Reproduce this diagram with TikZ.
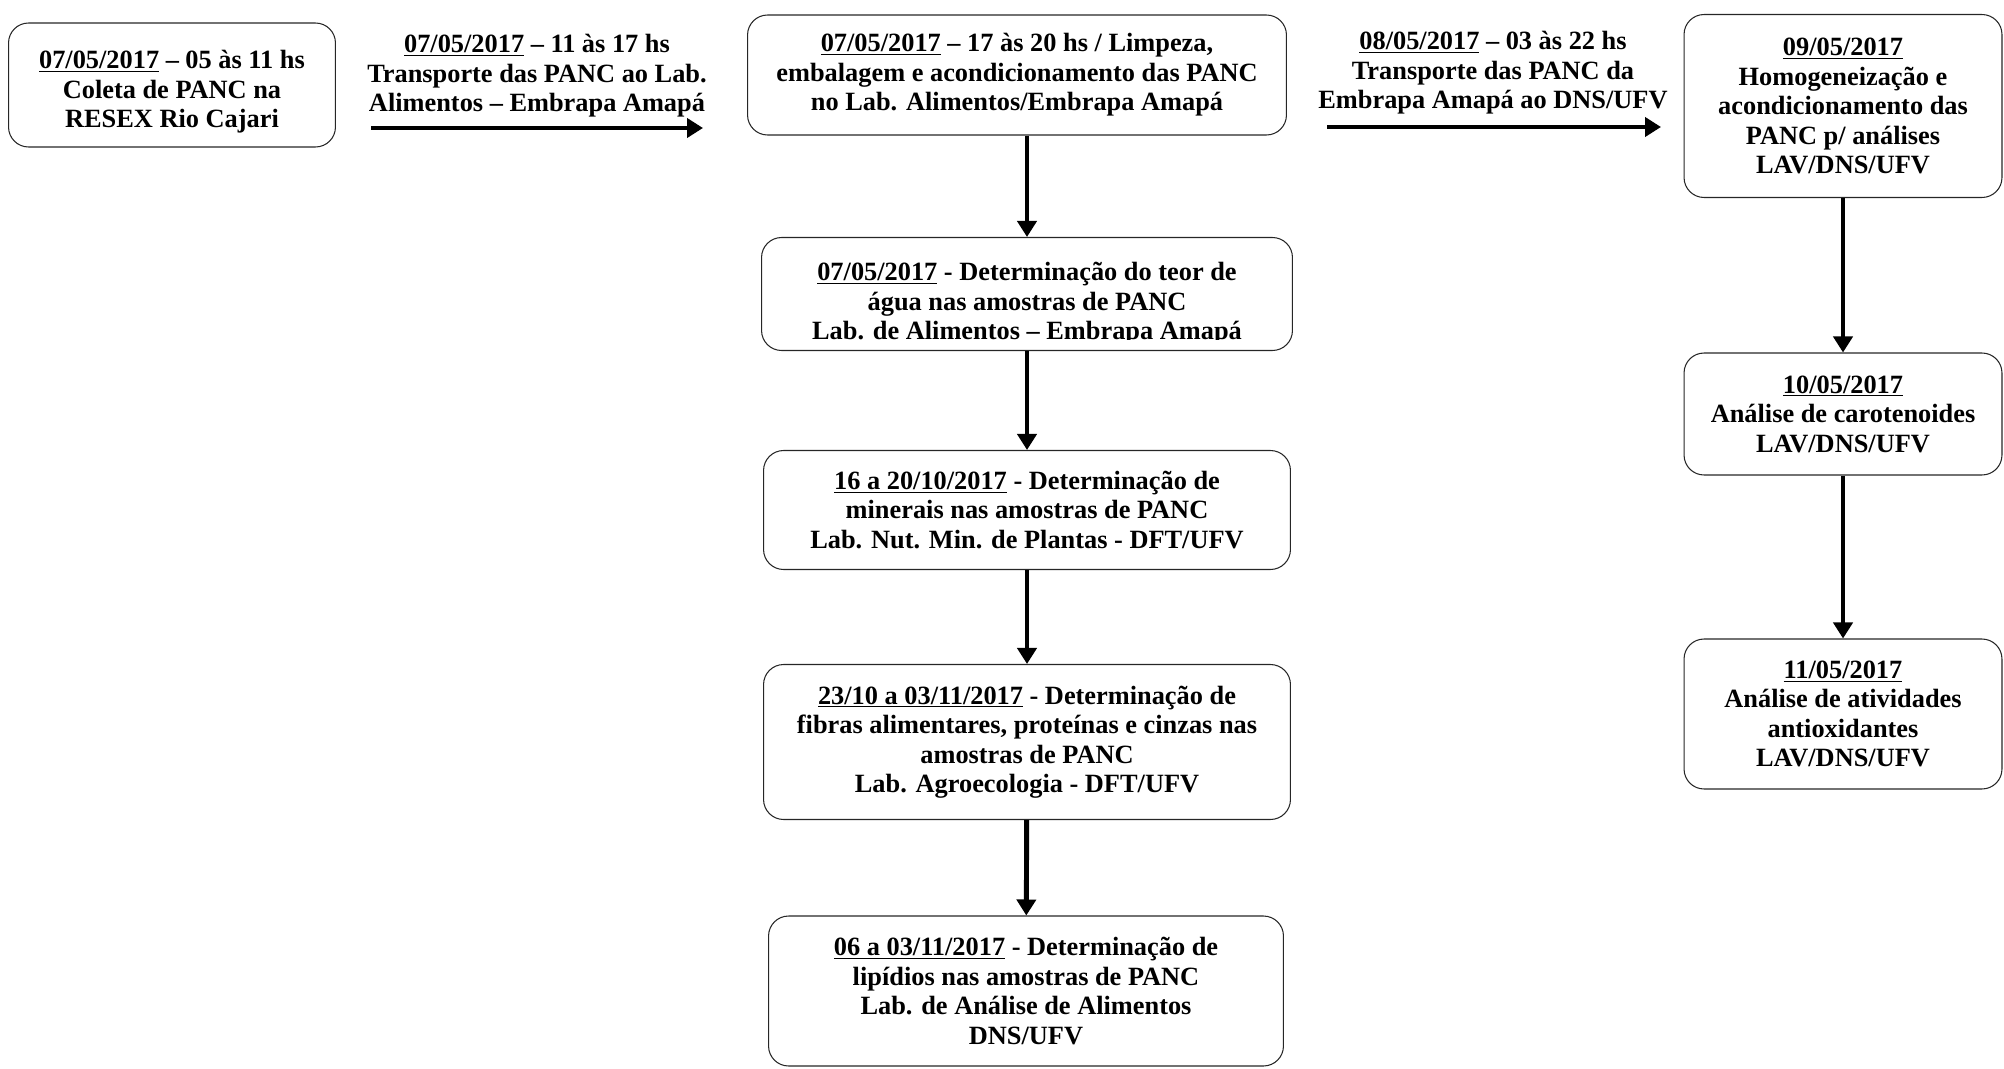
\documentclass[tikz,border=0pt]{standalone}
\usepackage{fontspec}
\setmainfont{Liberation Serif}
\usetikzlibrary{arrows.meta}
\tikzset{
    etapa/.style={rectangle,rounded corners=0.4cm,draw=black!85,line width=0.6pt,align=center,inner sep=0pt,font=\bfseries\fontsize{15}{16.8}\selectfont},
    trajeto/.style={align=center,inner sep=0pt,font=\bfseries\fontsize{15}{16.8}\selectfont},
    seta/.style={line width=2.8pt,arrows={-Triangle[length=0.32cm,width=0.38cm]}},
    }
\begin{document}
\begin{tikzpicture}[x=0.02cm,y=-0.02cm]
	\useasboundingbox (0,0) rectangle (2004,1068);

		\node[etapa,minimum width=6.54cm,minimum height=2.48cm] (coleta) at (172,85) {\rule{0pt}{18pt}\underline{07/05/2017} -- 05 às 11 hs\\Coleta de PANC na\\RESEX Rio Cajari};
		\node[etapa,minimum width=10.78cm,minimum height=2.4cm] (limpeza) at (1017,75) {\underline{07/05/2017} -- 17 às 20 hs / Limpeza,\\embalagem e acondicionamento das PANC\\no Lab. Alimentos/Embrapa Amapá};
		\node[etapa,minimum width=6.36cm,minimum height=3.66cm] (homog) at (1843,106) {\underline{09/05/2017}\\Homogeneização e\\acondicionamento das\\PANC p/ análises\\LAV/DNS/UFV};

		\node[etapa,minimum width=10.62cm,minimum height=2.26cm] (agua) at (1027,294) {};
		\begin{scope}
		\clip (agua.north west) rectangle ([yshift=0.24cm]agua.south east);
		\node[trajeto] (aguatexto) at (1027,304) {\underline{07/05/2017} - Determinação do teor de\\água nas amostras de PANC\\Lab. de Alimentos -- Embrapa Amapá};
		\end{scope}
		\node[etapa,minimum width=10.54cm,minimum height=2.38cm] (minerais) at (1027,510) {\underline{16 a 20/10/2017} - Determinação de\\minerais nas amostras de PANC\\Lab. Nut. Min. de Plantas - DFT/UFV};
		\node[etapa,minimum width=10.54cm,minimum height=3.1cm] (fibras) at (1027,742) {\underline{23/10 a 03/11/2017} - Determinação de\\fibras alimentares, proteínas e cinzas nas\\amostras de PANC\\Lab. Agroecologia - DFT/UFV};
		\node[etapa,minimum width=10.3cm,minimum height=3.0cm] (lipidios) at (1026,991) {\underline{06 a 03/11/2017} - Determinação de\\lipídios nas amostras de PANC\\Lab. de Análise de Alimentos\\DNS/UFV};

		\node[etapa,minimum width=6.36cm,minimum height=2.44cm] (carot) at (1843,414) {\underline{10/05/2017}\\Análise de carotenoides\\LAV/DNS/UFV};
		\node[etapa,minimum width=6.36cm,minimum height=3.0cm] (antiox) at (1843,714) {\underline{11/05/2017}\\Análise de atividades\\antioxidantes\\LAV/DNS/UFV};

		% transportes
		\node[trajeto] (trans1) at (537,76) {\underline{07/05/2017} -- 11 às 17 hs\\Transporte das PANC ao Lab.\\Alimentos -- Embrapa Amapá};
		\coordinate (trans1a) at (371,128);
		\coordinate (trans1b) at (703,128);
		\node[trajeto] (trans2) at (1493,73) {\underline{08/05/2017} -- 03 às 22 hs\\Transporte das PANC da\\Embrapa Amapá ao DNS/UFV};
		\coordinate (trans2a) at (1327,127);
		\coordinate (trans2b) at (1661,127);

	\draw[seta] (trans1a) -- (trans1b);
	\draw[seta] (trans2a) -- (trans2b);

	\draw[seta] (limpeza.south -| agua.north) -- (agua.north);
	\draw[seta] (agua) -- (minerais);
	\draw[seta] (minerais) -- (fibras);
	\draw[seta] (fibras) -- (lipidios);

	\draw[seta] (homog) -- (carot);
	\draw[seta] (carot) -- (antiox);
\end{tikzpicture}
\end{document}
